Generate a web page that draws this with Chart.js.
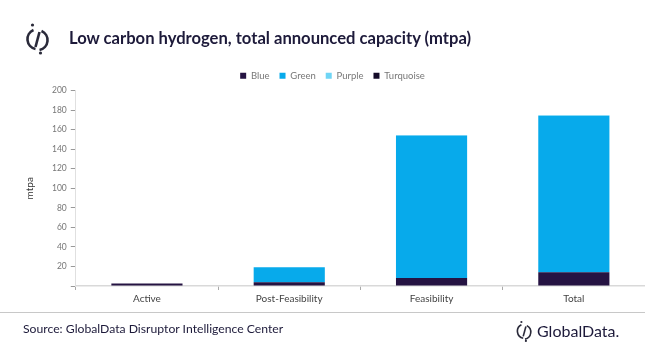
<!DOCTYPE html>
<html><head><meta charset="utf-8">
<script src="https://cdn.jsdelivr.net/npm/chart.js@4/dist/chart.umd.min.js"></script>
<style>
html,body{margin:0;padding:0;background:#fff;width:645px;height:350px;overflow:hidden;font-family:Lato,"Open Sans",sans-serif;}
#wrap{position:absolute;left:0;top:0;width:645px;height:350px;}
#title{position:absolute;left:69px;top:28px;font-size:16.6px;font-weight:bold;color:#1d1a3a;white-space:nowrap;}
#logo{position:absolute;left:24px;top:21px;}
#rule{position:absolute;left:0;top:312px;width:645px;height:1px;background:#c8c8c8;}
#src{position:absolute;left:23px;top:321px;font-size:12.2px;color:#1d1a3a;white-space:nowrap;}
#gd{position:absolute;left:516px;top:319px;}
#gdt{position:absolute;left:537px;top:321px;font-size:16px;color:#1d1a3a;white-space:nowrap;}
</style></head>
<body>
<div id="wrap"><canvas id="c" width="645" height="350"></canvas></div>
<svg id="logo" width="27" height="34" viewBox="0 0 26 34">
  <path d="M9 9 A10 10 0 0 0 11 28" fill="none" stroke="#2a2a3a" stroke-width="2.6"/>
  <path d="M17 10 A10 10 0 0 1 15 29" fill="none" stroke="#2a2a3a" stroke-width="2.6"/>
  <line x1="15" y1="11" x2="11" y2="26" stroke="#2a2a3a" stroke-width="2.6"/>
  <circle cx="8" cy="4" r="1.6" fill="#2a2a3a"/>
  <circle cx="16" cy="32" r="1.6" fill="#2a2a3a"/>
</svg>
<div id="title">Low carbon hydrogen, total announced capacity (mtpa)</div>
<div id="rule"></div>
<div id="src">Source: GlobalData Disruptor Intelligence Center</div>
<svg id="gd" width="18" height="24" viewBox="0 0 20 24">
  <path d="M6 5 A8 8 0 0 0 8 20" fill="none" stroke="#2a2a3a" stroke-width="1.8"/>
  <path d="M12 6 A8 8 0 0 1 10 21" fill="none" stroke="#2a2a3a" stroke-width="1.8"/>
  <line x1="11" y1="7" x2="8" y2="18" stroke="#2a2a3a" stroke-width="1.8"/>
  <circle cx="6" cy="2" r="1.2" fill="#2a2a3a"/>
  <circle cx="11" cy="23" r="1.2" fill="#2a2a3a"/>
</svg>
<div id="gdt">GlobalData.</div>
<script>
const categories = ["Active", "Post-Feasibility", "Feasibility", "Total"];
const blue = [2.5, 3.8, 8.2, 14.0];
const green = [0, 15.4, 145.8, 160.2];
const purple = [0, 0, 0.2, 0.4];
const turquoise = [0, 0, 0, 0];
const yTicks = [0, 20, 40, 60, 80, 100, 120, 140, 160, 180, 200];

const chart = new Chart(document.getElementById('c'), {
  type: 'bar',
  data: {
    labels: categories,
    datasets: [
      {label: 'Blue', data: blue, backgroundColor: '#251342', barPercentage: 0.5, categoryPercentage: 1},
      {label: 'Green', data: green, backgroundColor: '#07aaeb', barPercentage: 0.5, categoryPercentage: 1},
      {label: 'Purple', data: purple, backgroundColor: '#6fd5f5', barPercentage: 0.5, categoryPercentage: 1},
      {label: 'Turquoise', data: turquoise, backgroundColor: '#140b28', barPercentage: 0.5, categoryPercentage: 1}
    ]
  },
  options: {
    responsive: false,
    animation: false,
    layout: {padding: {left: 20, right: 0, top: 61, bottom: 42}},
    plugins: {
      legend: {
        position: 'top',
        labels: {boxWidth: 6, boxHeight: 6, font: {family: 'Lato', size: 9.5}, color: '#777', padding: 10},
      },
      tooltip: {enabled: false}
    },
    scales: {
      x: {
        stacked: true,
        grid: {display: true, drawOnChartArea: false, color: '#aaa', tickLength: 4, offset: true},
        border: {color: '#d9d9d9', width: 1.5},
        ticks: {font: {family: 'Lato', size: 10}, color: '#444', padding: 3}
      },
      y: {
        stacked: true,
        min: 0, max: 200,
        afterBuildTicks: (ax) => { ax.ticks = yTicks.map(v => ({value: v})); },
        grid: {display: true, drawOnChartArea: false, color: '#999', tickLength: 5},
        border: {color: '#e0e0e0', width: 1},
        ticks: {font: {family: 'Lato', size: 8.5}, color: '#777', padding: 4,
                callback: (v) => v === 0 ? '' : v},
        title: {display: true, text: 'mtpa', font: {family: 'Lato', size: 10}, color: '#333', padding: {bottom: 12}}
      }
    }
  }
});
</script>
</body></html>
